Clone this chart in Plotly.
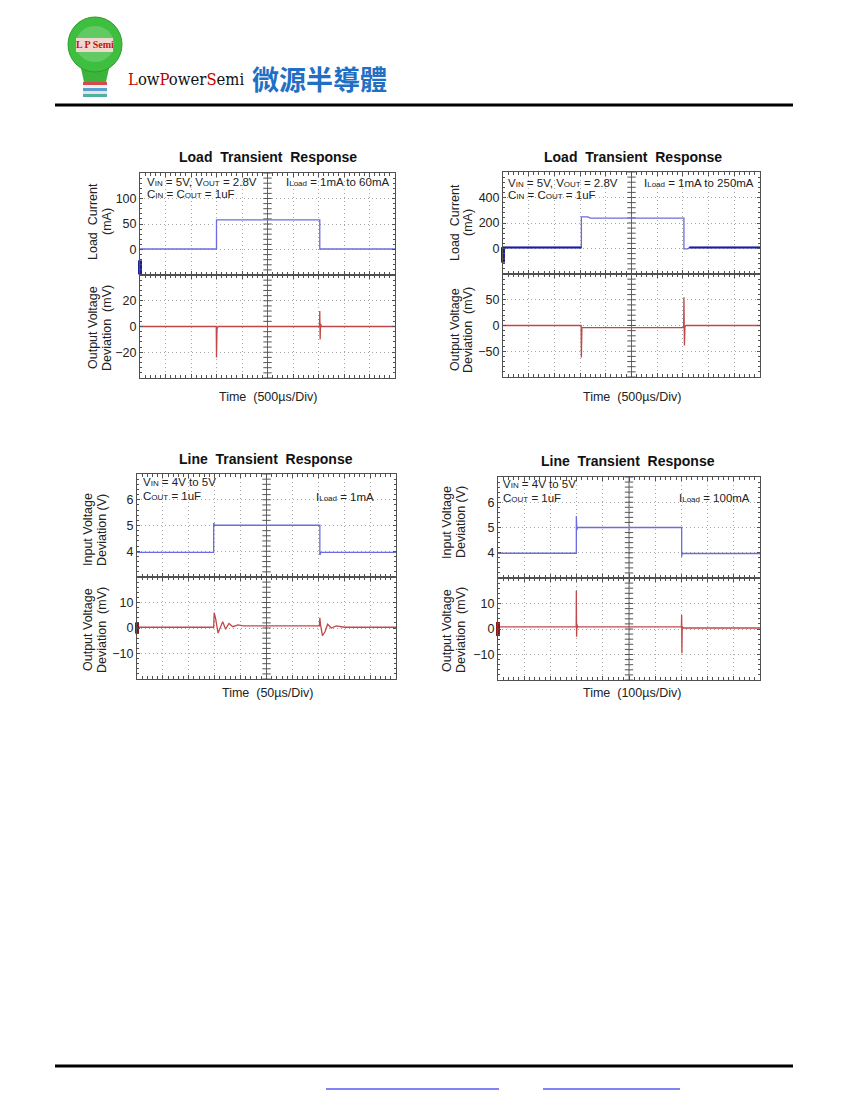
import numpy as np
import plotly.graph_objects as go

W, H = 842, 1092   # page shows the figure inside an 8px body margin
OFF = 8

# ---------------- data (time in scope divisions 0..10) ----------------
# Chart 1: Load transient 1mA -> 60mA
lt60_cur_t = [0, 3.0, 3.0, 7.05, 7.05, 10]
lt60_cur_v = [1, 1, 58, 58, 1, 1]
lt60_vout_t = [0, 2.99, 3.0, 3.02, 3.06, 7.04, 7.05, 7.065, 7.08, 7.12, 10]
lt60_vout_v = [0, 0, -24, -2, 0, 0, 12, -10, 2, 0, 0]
lt60_gnd_cur = -35

# Chart 2: Load transient 1mA -> 250mA
lt250_cur_t = [0, 3.05, 3.05, 3.3, 3.4, 7.04, 7.04, 7.2, 7.25, 10]
lt250_cur_v = [8, 8, 248, 248, 238, 238, -3, -3, 8, 8]
lt250_cur_dark_t = [0, 3.05, None, 7.25, 10]
lt250_cur_dark_v = [8, 8, None, 8, 8]
lt250_vout_t = [0, 3.04, 3.05, 3.07, 3.12, 7.03, 7.04, 7.06, 7.08, 7.12, 10]
lt250_vout_v = [0, 0, -62, -4, -4, -4, 55, -39, -2, 0, 0]
lt250_gnd_cur = -50

# Chart 3: Line transient 4V -> 5V, ILoad = 1mA
ln1_vin_t = [0, 2.96, 2.96, 3.0, 7.06, 7.06, 7.1, 10]
ln1_vin_v = [3.96, 3.96, 5.1, 5.01, 5.01, 3.85, 3.96, 3.96]
ln1_vout_t = [0, 2.96, 2.98, 3.03, 3.13, 3.21, 3.31, 3.42, 3.55, 3.7, 3.9, 4.1, 4.4, 7.04,
              7.06, 7.09, 7.16, 7.26, 7.36, 7.5, 7.7, 8.0, 10]
ln1_vout_v = [0.3, 0.3, 6, 4, -2, 0, 2.5, -0.5, 1.8, 0.5, 1.2, 0.8, 0.8, 0.8,
              4, 1, -3, -1.5, 1.5, 0, 0.8, 0.3, 0.3]
ln1_gnd_vout = 0

# Chart 4: Line transient 4V -> 5V, ILoad = 100mA
ln100_vin_t = [0, 2.99, 2.99, 3.01, 3.03, 7.01, 7.01, 7.03, 7.06, 10]
ln100_vin_v = [3.98, 3.98, 5.45, 4.9, 5.0, 5.0, 3.84, 4.0, 3.97, 3.97]
ln100_vout_t = [0, 2.985, 2.99, 3.0, 3.01, 3.03, 3.05, 7.0, 7.01, 7.02, 7.03, 7.06, 10]
ln100_vout_v = [0.8, 0.8, 15, -3, 2, 0.5, 0.8, 0.8, 5.5, -9.5, 1, 0.4, 0.4]
ln100_gnd_vout = 0

# axis ranges / tick labels
lt60_cur_range, lt60_cur_ticks = [-50, 150], [0, 50, 100]
lt60_vout_range, lt60_vout_ticks = [-40, 40], [-20, 0, 20]
lt250_cur_range, lt250_cur_ticks = [-200, 600], [0, 200, 400]
lt250_vout_range, lt250_vout_ticks = [-100, 100], [-50, 0, 50]
ln_vin_range, ln_vin_ticks = [3, 7], [4, 5, 6]
ln_vout_range, ln_vout_ticks = [-20, 20], [-10, 0, 10]

# ---------------- styling ----------------
FONT = "Liberation Sans"
AX = "#505050"
GRID = "#a8a8a8"
GDASH = "1px,3px"
BLUE = "#6c6ce0"
DBLUE = "#1e1e98"
RED = "#c04848"
DRED = "#8a1a1a"


def pxx(x):
    return (x - OFF) / W


def pxy(y):
    return 1 - (y - OFF) / H


fig = go.Figure()
layout = {}


def axname(i, kind):
    return f"{kind}axis" if i == 1 else f"{kind}axis{i}"


def ref(i, kind):
    return kind if i == 1 else f"{kind}{i}"


def add_panel(i, x0, x1, ytop, ybot, yrange, yticks):
    span = yrange[1] - yrange[0]
    layout[axname(i, "x")] = dict(
        domain=[pxx(x0), pxx(x1)], range=[0, 10], anchor=ref(i, "y"),
        tickmode="linear", tick0=0, dtick=1, showgrid=True, gridcolor=GRID,
        griddash=GDASH, gridwidth=1, showline=True, linecolor=AX, linewidth=1,
        mirror="allticks", ticks="inside", ticklen=4, tickcolor=AX,
        showticklabels=False, zeroline=False, fixedrange=True,
        minor=dict(tickmode="linear", tick0=0, dtick=0.2, ticks="inside",
                   ticklen=3, tickcolor=AX, showgrid=False),
    )
    layout[axname(i, "y")] = dict(
        domain=[pxy(ybot), pxy(ytop)], range=yrange, anchor=ref(i, "x"),
        tickmode="array", tickvals=yticks, showgrid=True, gridcolor=GRID,
        griddash=GDASH, gridwidth=1, showline=True, linecolor=AX, linewidth=1,
        mirror="allticks", ticks="inside", ticklen=3, tickcolor=AX,
        zeroline=False, fixedrange=True,
        tickfont=dict(family=FONT, size=12.5, color="#222222"),
        minor=dict(tickmode="linear", tick0=yrange[0], dtick=span / 20,
                   ticks="inside", ticklen=2, tickcolor=AX, showgrid=False),
    )
    # centre vertical line with scale ticks
    yy = np.arange(yrange[0], yrange[1] + span / 40, span / 20)
    fig.add_trace(go.Scatter(
        x=[5, 5], y=yrange, mode="lines", line=dict(color="#666666", width=1),
        xaxis=ref(i, "x"), yaxis=ref(i, "y"), hoverinfo="skip", showlegend=False))
    fig.add_trace(go.Scatter(
        x=np.full(len(yy), 5.0), y=yy, mode="markers",
        marker=dict(symbol="line-ew", size=6, line=dict(color="#555555", width=1)),
        xaxis=ref(i, "x"), yaxis=ref(i, "y"), hoverinfo="skip", showlegend=False))


def add_line(i, t, v, color, width=1.3):
    fig.add_trace(go.Scatter(
        x=t, y=v, mode="lines", line=dict(color=color, width=width),
        connectgaps=False, xaxis=ref(i, "x"), yaxis=ref(i, "y"),
        hoverinfo="skip", showlegend=False))


def add_gnd(i, v, color, size):
    fig.add_trace(go.Scatter(
        x=[0], y=[v], mode="markers", cliponaxis=False,
        marker=dict(symbol="line-ns", size=size, line=dict(color=color, width=4)),
        xaxis=ref(i, "x"), yaxis=ref(i, "y"), hoverinfo="skip", showlegend=False))


ann = []


def text(x, y, s, size=12, xanchor="center", angle=0, bold=False, color="#222222", family=FONT):
    ann.append(dict(
        x=pxx(x), y=pxy(y), xref="paper", yref="paper", text=f"<b>{s}</b>" if bold else s,
        showarrow=False, xanchor=xanchor, yanchor="middle", textangle=angle,
        font=dict(family=family, size=size, color=color)))


# ---- Chart 1 (top-left)
add_panel(1, 140, 395, 173, 275, lt60_cur_range, lt60_cur_ticks)
add_panel(2, 140, 395, 275, 378, lt60_vout_range, lt60_vout_ticks)
add_line(1, lt60_cur_t, lt60_cur_v, BLUE)
add_line(2, lt60_vout_t, lt60_vout_v, RED)
add_gnd(1, lt60_gnd_cur, DBLUE, 10)

# ---- Chart 2 (top-right)
add_panel(3, 503, 760, 172, 274, lt250_cur_range, lt250_cur_ticks)
add_panel(4, 503, 760, 274, 377, lt250_vout_range, lt250_vout_ticks)
add_line(3, lt250_cur_t, lt250_cur_v, BLUE)
add_line(3, lt250_cur_dark_t, lt250_cur_dark_v, DBLUE, 1.8)
add_line(4, lt250_vout_t, lt250_vout_v, RED)
add_gnd(3, lt250_gnd_cur, DBLUE, 11)

# ---- Chart 3 (bottom-left)
add_panel(5, 137, 396, 474, 577, ln_vin_range, ln_vin_ticks)
add_panel(6, 137, 396, 577, 679, ln_vout_range, ln_vout_ticks)
add_line(5, ln1_vin_t, ln1_vin_v, BLUE)
add_line(6, ln1_vout_t, ln1_vout_v, RED)
add_gnd(6, ln1_gnd_vout, DRED, 8)

# ---- Chart 4 (bottom-right)
add_panel(7, 498, 760, 477, 578, ln_vin_range, ln_vin_ticks)
add_panel(8, 498, 760, 578, 680, ln_vout_range, ln_vout_ticks)
add_line(7, ln100_vin_t, ln100_vin_v, BLUE)
add_line(8, ln100_vout_t, ln100_vout_v, RED)
add_gnd(8, ln100_gnd_vout, DRED, 10)

# ---- chart texts
S = "<span style='font-size:8px'>"
E = "</span>"
TS = 14
text(268, 157, "Load  Transient  Response", TS, bold=True, color="#111111")
text(633, 157, "Load  Transient  Response", TS, bold=True, color="#111111")
text(266, 459, "Line  Transient  Response", TS, bold=True, color="#111111")
text(628, 461, "Line  Transient  Response", TS, bold=True, color="#111111")

text(268, 397, "Time  (500µs/Div)", 12.5)
text(632, 397, "Time  (500µs/Div)", 12.5)
text(267, 693, "Time  (50µs/Div)", 12.5)
text(632, 693, "Time  (100µs/Div)", 12.5)

text(93, 222, "Load  Current", 12.5, angle=-90)
text(107, 222, "(mA)", 12.5, angle=-90)
text(93, 328, "Output Voltage", 12.5, angle=-90)
text(107, 328, "Deviation  (mV)", 12.5, angle=-90)

text(455, 223, "Load  Current", 12.5, angle=-90)
text(468, 223, "(mA)", 12.5, angle=-90)
text(455, 330, "Output Voltage", 12.5, angle=-90)
text(468, 330, "Deviation  (mV)", 12.5, angle=-90)

text(88, 530, "Input Voltage", 12.5, angle=-90)
text(102, 530, "Deviation (V)", 12.5, angle=-90)
text(88, 630, "Output Voltage", 12.5, angle=-90)
text(102, 630, "Deviation  (mV)", 12.5, angle=-90)

text(447, 522, "Input Voltage", 12.5, angle=-90)
text(461, 522, "Deviation (V)", 12.5, angle=-90)
text(447, 630, "Output Voltage", 12.5, angle=-90)
text(461, 630, "Deviation  (mV)", 12.5, angle=-90)

text(145, 182, f"V{S}IN{E} = 5V, V{S}OUT{E} = 2.8V", 11.5, xanchor="left")
text(145, 194, f"C{S}IN{E} = C{S}OUT{E} = 1uF", 11.5, xanchor="left")
text(391, 182, f"I{S}Load{E} = 1mA to 60mA", 11.5, xanchor="right")

text(506, 183, f"V{S}IN{E} = 5V, V{S}OUT{E} = 2.8V", 11.5, xanchor="left")
text(506, 195, f"C{S}IN{E} = C{S}OUT{E} = 1uF", 11.5, xanchor="left")
text(756, 183, f"I{S}Load{E} = 1mA to 250mA", 11.5, xanchor="right")

text(141, 482, f"V{S}IN{E} = 4V to 5V", 11.5, xanchor="left")
text(141, 496, f"C{S}OUT{E} = 1uF", 11.5, xanchor="left")
text(376, 497, f"I{S}Load{E} = 1mA", 11.5, xanchor="right")

text(501, 484, f"V{S}IN{E} = 4V to 5V", 11.5, xanchor="left")
text(501, 498, f"C{S}OUT{E} = 1uF", 11.5, xanchor="left")
text(752, 498, f"I{S}Load{E} = 100mA", 11.5, xanchor="right")

# ---- header logo
shapes = []


def rect(x0, y0, x1, y1, fill):
    shapes.append(dict(type="rect", xref="paper", yref="paper",
                       x0=pxx(x0), x1=pxx(x1), y0=pxy(y1), y1=pxy(y0),
                       fillcolor=fill, line=dict(width=0), layer="above"))


def hline(x0, x1, y, color, width):
    shapes.append(dict(type="line", xref="paper", yref="paper",
                       x0=pxx(x0), x1=pxx(x1), y0=pxy(y), y1=pxy(y),
                       line=dict(color=color, width=width), layer="above"))


# bulb neck + glass
shapes.append(dict(type="path", xref="paper", yref="paper",
                   path=f"M {pxx(80)} {pxy(64)} L {pxx(110)} {pxy(64)} L {pxx(106)} {pxy(82)} "
                        f"L {pxx(84)} {pxy(82)} Z",
                   fillcolor="#3cb43c", line=dict(width=0), layer="above"))
shapes.append(dict(type="circle", xref="paper", yref="paper",
                   x0=pxx(68), x1=pxx(122), y0=pxy(72), y1=pxy(17),
                   fillcolor="#3fbf3f", line=dict(color="#2c9c2c", width=1), layer="above"))
shapes.append(dict(type="circle", xref="paper", yref="paper",
                   x0=pxx(76), x1=pxx(114), y0=pxy(62), y1=pxy(26),
                   fillcolor="#7ad27a", opacity=0.6, line=dict(width=0), layer="above"))
rect(76, 38, 113, 52, "#efd9cf")
rect(83, 82, 107, 85, "#d84a4a")
rect(83, 85, 107, 88, "#f2f2f2")
rect(83, 88, 107, 91, "#5b9fd0")
rect(83, 91, 107, 94, "#e4e4e4")
rect(83, 94, 107, 97, "#4fb0a0")
text(94.5, 45, "<b>L P Semi</b>", 10, color="#cc1010", family="Liberation Serif")

R = "<span style='color:#c40000'>"
text(126, 80, f"{R}L{E}ow{R}P{E}ower{R}S{E}emi", 16.5, xanchor="left", color="#111111",
     family="DejaVu Serif Condensed, Liberation Serif")
text(250, 78, "<b>微源半導體</b>", 27, xanchor="left", color="#1f6fc5",
     family="Noto Sans CJK TC")

hline(55, 793, 105, "#000000", 3)
hline(55, 793, 1066, "#000000", 3)
hline(326, 499, 1089, "#5a5af0", 1.5)
hline(543, 680, 1089, "#5a5af0", 1.5)

fig.update_layout(
    width=W, height=H, margin=dict(l=0, r=0, t=0, b=0),
    paper_bgcolor="white", plot_bgcolor="white", showlegend=False,
    annotations=ann, shapes=shapes, **layout)

fig.write_html("out.html")
